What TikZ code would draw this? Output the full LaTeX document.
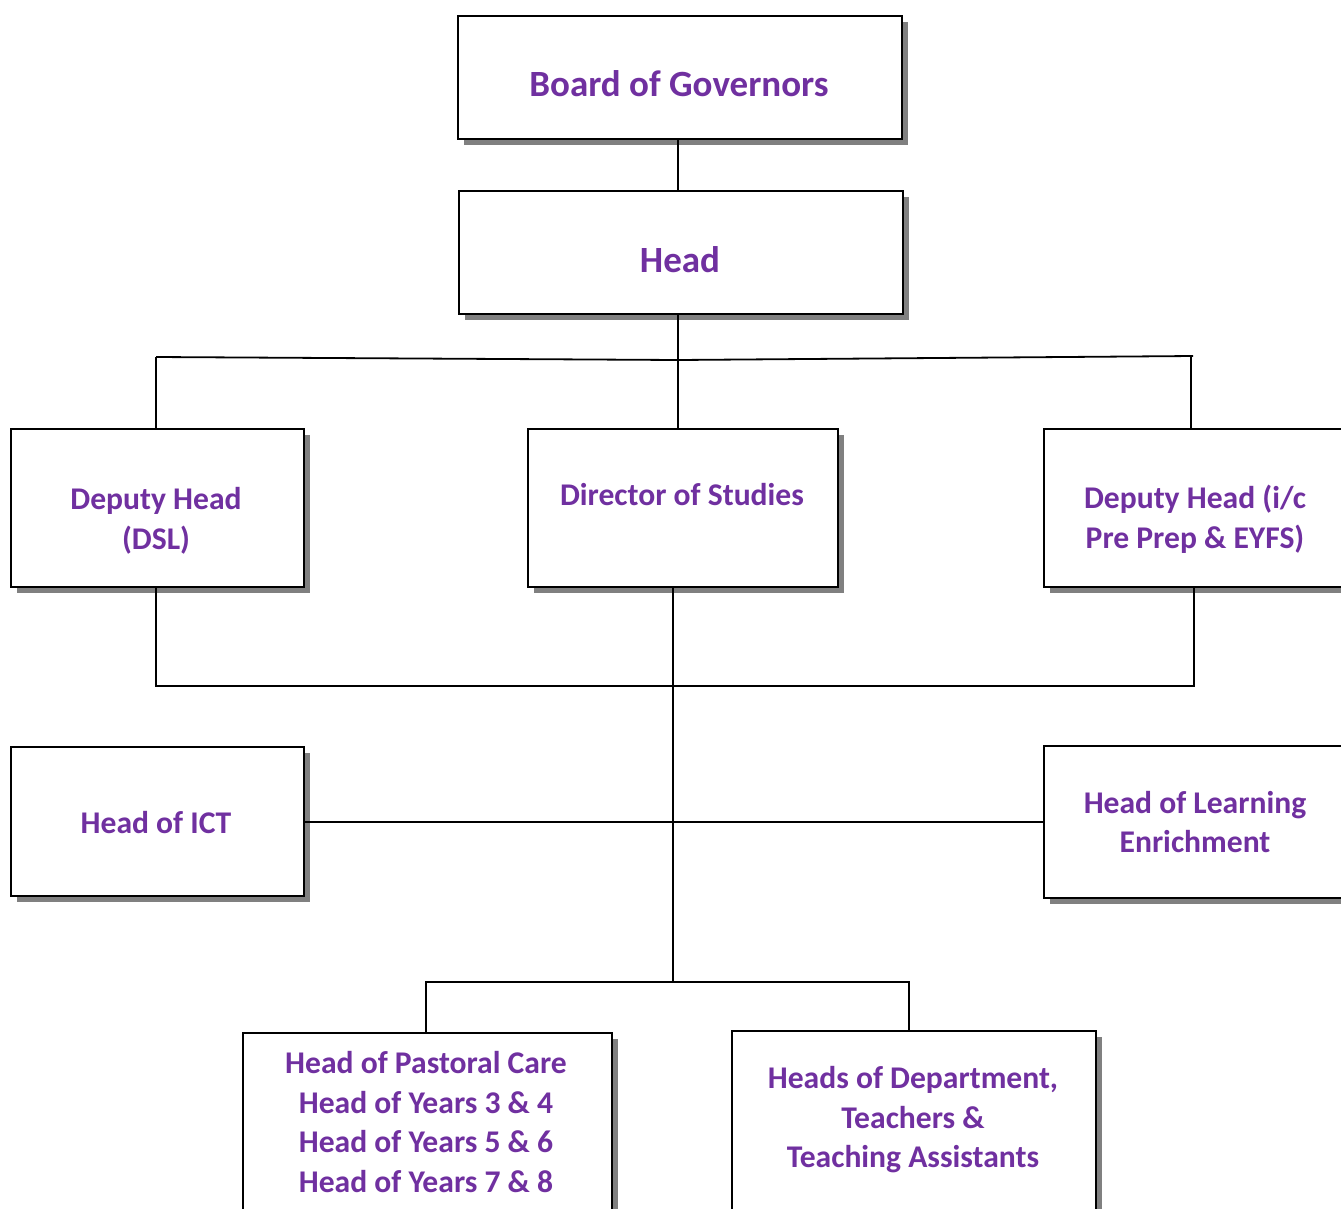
\documentclass[tikz,border=0pt]{standalone}
\usepackage{fontspec}
\setmainfont{Carlito}
\usetikzlibrary{shadows}
\definecolor{ttl}{HTML}{7030A0}
\definecolor{shadowgray}{HTML}{808080}
\begin{document}
\begin{tikzpicture}[x=1pt,y=-1pt,
  box/.style={draw=black, line width=2pt, fill=white, inner sep=0pt, anchor=north west,
    general shadow={shadow xshift=6pt, shadow yshift=-6pt, fill=shadowgray}},
  txt/.style={text=ttl, align=center, inner sep=0pt, font=\bfseries\fontsize{31.6}{39.5}\selectfont},
  big/.style={font=\bfseries\fontsize{37}{44}\selectfont},
  conn/.style={line width=1.8pt, draw=black}]
\useasboundingbox (0,0) rectangle (1341,1208);
% boxes
\node[box, minimum width=444pt, minimum height=123pt] (board) at (457,15) {};
\node[box, minimum width=444pt, minimum height=123pt] (head) at (458,190) {};
\node[box, minimum width=293pt, minimum height=158pt] (dsl) at (10,428) {};
\node[box, minimum width=310pt, minimum height=158pt] (dos) at (527,428) {};
\node[box, minimum width=304pt, minimum height=158pt] (dep) at (1043,428) {};
\node[box, minimum width=293pt, minimum height=149pt] (ict) at (10,746) {};
\node[box, minimum width=304pt, minimum height=152pt] (hle) at (1043,745) {};
\node[box, minimum width=369pt, minimum height=200pt] (pas) at (242,1032) {};
\node[box, minimum width=364pt, minimum height=200pt] (hod) at (731,1030) {};
% texts
\node[txt, big] (boardt) at (679,84) {Board of Governors};
\node[txt, big] (headt) at (680,260) {Head};
\node[txt] (dslt) at (156,521) {Deputy Head\\(DSL)};
\node[txt] (dost) at (682,495) {Director of Studies};
\node[txt] (dept) at (1195,519) {Deputy Head (i/c\\Pre Prep \& EYFS)};
\node[txt] (ictt) at (156,823) {Head of ICT};
\node[txt] (hlet) at (1195,822) {Head of Learning\\Enrichment};
\node[txt] (past) at (426,1122) {Head of Pastoral Care\\Head of Years 3 \& 4\\Head of Years 5 \& 6\\Head of Years 7 \& 8};
\node[txt] (hodt) at (913,1120) {Heads of Department,\\Teachers \&\\Teaching Assistants};
% connectors
\coordinate (hl) at (156,357);
\coordinate (hm) at (678,360);
\coordinate (hr) at (1193,356);
\coordinate (hr2) at (1191,357);
\coordinate (ml) at (156,686);
\coordinate (mm) at (673,686);
\coordinate (mr) at (1194,686);
\coordinate (bm) at (673,982);
\coordinate (bl) at (426,982);
\coordinate (br) at (909,982);
\coordinate (ic) at (300,822);
\draw[conn] (board.south -| hm) -- (hm |- head.north);
\draw[conn] (hm |- head.south) -- (hm |- dos.north);
\draw[conn] (hl) -- (hm) -- (hr);
\draw[conn] (hl) -- (hl |- dsl.north);
\draw[conn] (hr2) -- (hr2 |- dep.north);
\draw[conn] (ml |- dsl.south) -- (ml) -- (mr) -- (mr |- dep.south);
\draw[conn] (mm |- dos.south) -- (bm);
\draw[conn] (ic -| ict.east) -- (ic -| hle.west);
\draw[conn] (bl |- pas.north) -- (bl) -- (br) -- (br |- hod.north);
\end{tikzpicture}
\end{document}
